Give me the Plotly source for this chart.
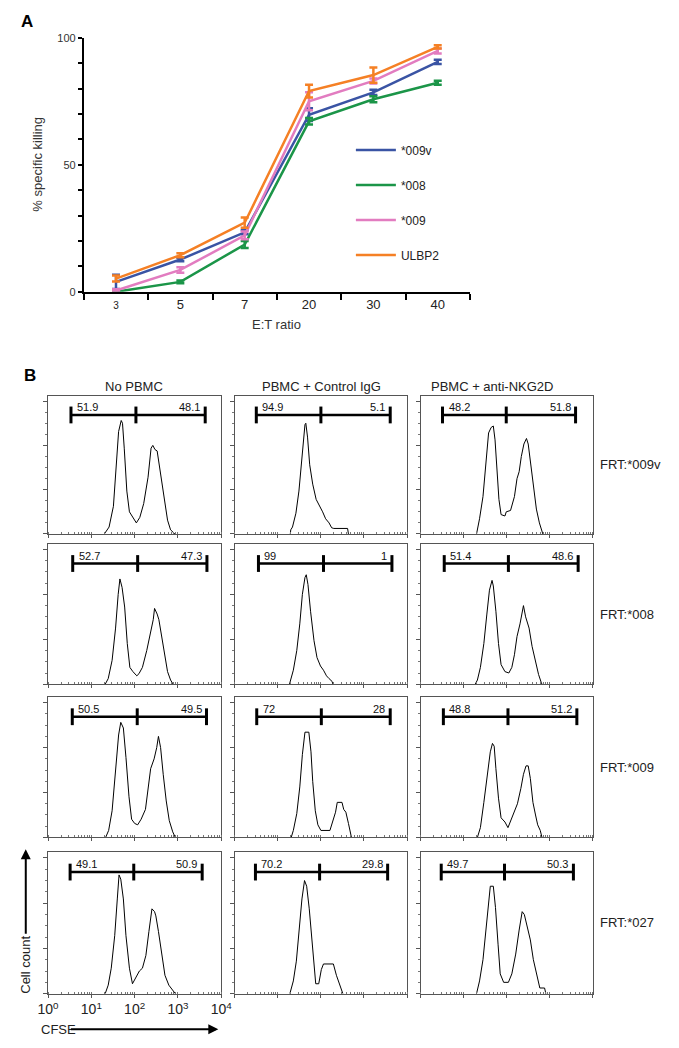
import plotly.graph_objects as go

W, H = 679, 1048
OFF = 8  # default body margin of the html page
FONT = "Arial, Liberation Sans, sans-serif"


def fx(p):
    return (p - OFF) / W


def fy(p):
    return 1 - (p - OFF) / H


# ---------------- Panel A data ----------------
ratios = ["3", "5", "7", "20", "30", "40"]
series_names = ["*009v", "*008", "*009", "ULBP2"]
kill_009v = [3.9, 12.7, 23.4, 69.7, 78.5, 90.5]
err_009v = [2.8, 0.7, 0.8, 2.5, 1.0, 0.8]
kill_008 = [0.0, 3.9, 18.6, 67.1, 75.8, 82.3]
err_008 = [0.3, 0.5, 1.4, 1.3, 1.2, 0.8]
kill_009 = [0.5, 8.6, 22.2, 75.0, 83.0, 94.8]
err_009 = [0.5, 1.1, 1.5, 3.5, 1.0, 1.0]
kill_ulbp2 = [5.2, 14.4, 27.2, 79.0, 85.3, 96.4]
err_ulbp2 = [1.2, 0.8, 2.0, 2.5, 3.0, 0.6]
series_colors = ["#3a54a4", "#1b9548", "#e27cc0", "#f58025"]
y_ticks_A = [0, 10, 20, 30, 40, 50, 60, 70, 80, 90, 100]
y_labels_A = ["0", "", "", "", "", "50", "", "", "", "", "100"]

# ---------------- Panel B data (log10 CFSE, relative count) ----------------
col_titles = ["No PBMC", "PBMC + Control IgG", "PBMC + anti-NKG2D"]
row_labels = ["FRT:*009v", "FRT:*008", "FRT:*009", "FRT:*027"]
x_tick_vals = [1, 10, 100, 1000, 10000]
x_tick_text = ["10<sup>0</sup>", "10<sup>1</sup>", "10<sup>2</sup>", "10<sup>3</sup>", "10<sup>4</sup>"]

r1c1_logx = [1.30, 1.41, 1.51, 1.58, 1.63, 1.69, 1.72, 1.76, 1.82, 1.88, 1.97, 2.04, 2.12, 2.21, 2.31, 2.38, 2.42, 2.47, 2.52, 2.58, 2.66, 2.76, 2.83, 2.93]
r1c1_count = [0, 5, 20, 50, 74, 82, 80, 62, 31, 16, 11, 8, 12, 22, 41, 62, 64, 61, 60, 48, 29, 10, 3, 0]
r1c1_gate = [0.53, 2.03, 3.63]
r1c1_pct = ["51.9", "48.1"]

r1c2_logx = [1.29, 1.30, 1.34, 1.42, 1.49, 1.55, 1.60, 1.63, 1.65, 1.69, 1.74, 1.81, 1.89, 1.96, 2.04, 2.11, 2.19, 2.25, 2.30, 2.62, 2.64]
r1c2_count = [0, 3, 5, 15, 31, 50, 70, 79, 80, 70, 50, 36, 25, 21, 16, 11, 8, 4.5, 4, 4, 0]
r1c2_gate = [0.50, 2.00, 3.61]
r1c2_pct = ["94.9", "5.1"]

r1c3_logx = [1.30, 1.37, 1.45, 1.52, 1.58, 1.64, 1.69, 1.73, 1.78, 1.82, 1.87, 1.96, 1.99, 2.09, 2.18, 2.24, 2.29, 2.34, 2.40, 2.46, 2.50, 2.55, 2.63, 2.69, 2.76, 2.82, 2.84]
r1c3_count = [0, 11, 27, 51, 73, 77, 78, 68, 46, 25, 14, 13, 16, 17, 27, 40, 45, 56, 65, 69, 65, 53, 34, 18, 8, 2, 0]
r1c3_gate = [0.51, 1.99, 3.60]
r1c3_pct = ["48.2", "51.8"]

r2c1_logx = [1.32, 1.39, 1.48, 1.56, 1.62, 1.66, 1.71, 1.77, 1.83, 1.89, 1.96, 2.05, 2.10, 2.18, 2.28, 2.37, 2.43, 2.46, 2.52, 2.56, 2.61, 2.68, 2.76, 2.83, 2.89]
r2c1_count = [0, 4, 17, 40, 64, 75, 69, 55, 29, 12, 9, 6, 7.5, 12, 24, 36, 46, 54, 50, 46, 37, 22, 9, 3, 0]
r2c1_gate = [0.57, 2.07, 3.67]
r2c1_pct = ["52.7", "47.3"]

r2c2_logx = [1.27, 1.30, 1.36, 1.44, 1.51, 1.57, 1.63, 1.66, 1.70, 1.76, 1.84, 1.91, 1.99, 2.06, 2.13, 2.19, 2.26, 2.28]
r2c2_count = [0, 3, 10, 24, 43, 64, 76, 78, 71, 52, 31, 19, 13, 10, 6, 4, 2, 0]
r2c2_gate = [0.55, 2.06, 3.65]
r2c2_pct = ["99", "1"]

r2c3_logx = [1.27, 1.32, 1.39, 1.47, 1.54, 1.60, 1.66, 1.69, 1.75, 1.81, 1.87, 1.96, 2.05, 2.12, 2.18, 2.24, 2.31, 2.36, 2.39, 2.44, 2.52, 2.59, 2.67, 2.74, 2.80, 2.82]
r2c3_count = [0, 3, 12, 29, 50, 67, 74, 70, 52, 29, 14, 9, 8, 12, 21, 34, 43, 52, 56, 48, 40, 27, 15, 7, 1.5, 0]
r2c3_gate = [0.55, 2.04, 3.66]
r2c3_pct = ["51.4", "48.6"]

r3c1_logx = [1.33, 1.40, 1.48, 1.55, 1.63, 1.68, 1.74, 1.80, 1.87, 1.93, 2.00, 2.07, 2.15, 2.25, 2.32, 2.37, 2.45, 2.51, 2.55, 2.60, 2.66, 2.73, 2.80, 2.88, 2.94]
r3c1_count = [0, 5, 19, 45, 73, 82, 78, 57, 29, 13, 10, 9, 13, 20, 36, 49, 56, 64, 72, 64, 45, 26, 12, 4, 0]
r3c1_gate = [0.56, 2.06, 3.66]
r3c1_pct = ["50.5", "49.5"]

r3c2_logx = [1.31, 1.36, 1.44, 1.51, 1.57, 1.63, 1.72, 1.77, 1.81, 1.87, 1.93, 2.00, 2.21, 2.27, 2.34, 2.38, 2.49, 2.53, 2.58, 2.64, 2.70, 2.71]
r3c2_count = [0, 5, 17, 36, 59, 75, 75, 61, 40, 19, 9, 5, 5, 11, 18, 25, 25, 20, 18, 10, 3, 0]
r3c2_gate = [0.51, 2.01, 3.61]
r3c2_pct = ["72", "28"]

r3c3_logx = [1.32, 1.39, 1.47, 1.54, 1.62, 1.67, 1.71, 1.75, 1.81, 1.87, 1.96, 2.03, 2.09, 2.18, 2.25, 2.33, 2.39, 2.45, 2.50, 2.55, 2.61, 2.67, 2.72, 2.78, 2.82]
r3c3_count = [0, 7, 25, 44, 61, 67, 65, 49, 28, 14, 11, 7, 12, 18, 24, 35, 45, 51, 51, 42, 25, 16, 9, 5, 0]
r3c3_gate = [0.53, 2.03, 3.63]
r3c3_pct = ["48.8", "51.2"]

r4c1_logx = [1.32, 1.39, 1.46, 1.54, 1.60, 1.64, 1.68, 1.74, 1.80, 1.88, 1.95, 2.02, 2.11, 2.18, 2.26, 2.33, 2.40, 2.46, 2.49, 2.55, 2.63, 2.70, 2.79, 2.88, 2.94]
r4c1_count = [0, 6, 18, 41, 67, 84, 81, 67, 41, 18, 7, 11, 16, 18, 27, 44, 60, 58, 55, 44, 27, 13, 6, 2, 0]
r4c1_gate = [0.51, 1.98, 3.56]
r4c1_pct = ["49.1", "50.9"]

r4c2_logx = [1.28, 1.36, 1.43, 1.50, 1.56, 1.62, 1.67, 1.73, 1.79, 1.84, 1.88, 1.95, 2.01, 2.06, 2.29, 2.36, 2.44, 2.51]
r4c2_count = [0, 9, 23, 46, 67, 80, 76, 60, 37, 18, 7, 7, 17, 21, 21, 13, 6, 0]
r4c2_gate = [0.48, 1.97, 3.55]
r4c2_pct = ["70.2", "29.8"]

r4c3_logx = [1.30, 1.37, 1.45, 1.52, 1.58, 1.62, 1.69, 1.74, 1.80, 1.85, 1.93, 2.04, 2.12, 2.21, 2.29, 2.36, 2.41, 2.47, 2.55, 2.62, 2.70, 2.77, 2.88, 2.91]
r4c3_count = [0, 9, 24, 45, 68, 76, 76, 61, 35, 14, 8, 8, 14, 28, 45, 58, 56, 49, 38, 24, 12, 4, 4, 0]
r4c3_gate = [0.48, 1.95, 3.55]
r4c3_pct = ["49.7", "50.3"]

gate_level = 86

panels = [
    [(r1c1_logx, r1c1_count, r1c1_gate, r1c1_pct), (r1c2_logx, r1c2_count, r1c2_gate, r1c2_pct), (r1c3_logx, r1c3_count, r1c3_gate, r1c3_pct)],
    [(r2c1_logx, r2c1_count, r2c1_gate, r2c1_pct), (r2c2_logx, r2c2_count, r2c2_gate, r2c2_pct), (r2c3_logx, r2c3_count, r2c3_gate, r2c3_pct)],
    [(r3c1_logx, r3c1_count, r3c1_gate, r3c1_pct), (r3c2_logx, r3c2_count, r3c2_gate, r3c2_pct), (r3c3_logx, r3c3_count, r3c3_gate, r3c3_pct)],
    [(r4c1_logx, r4c1_count, r4c1_gate, r4c1_pct), (r4c2_logx, r4c2_count, r4c2_gate, r4c2_pct), (r4c3_logx, r4c3_count, r4c3_gate, r4c3_pct)],
]

# pixel layout of the histogram grid
col_px = [(38, 217), (231, 409), (423, 601)]
row_px = [(394, 534), (544, 686), (699, 841), (856, 999)]
col_title_px = [127, 321, 497]

fig = go.Figure()

# ---------------- Panel A traces ----------------
kills = [kill_009v, kill_008, kill_009, kill_ulbp2]
errs = [err_009v, err_008, err_009, err_ulbp2]
for name, k, e, col in zip(series_names, kills, errs, series_colors):
    fig.add_trace(go.Scatter(
        x=ratios, y=k, name=name, mode="lines", legendgroup=name,
        line=dict(color=col, width=2.5),
        error_y=dict(type="data", array=e, color=col, thickness=2.5, width=4),
        cliponaxis=False, xaxis="x", yaxis="y",
    ))

layout = dict(
    width=W, height=H, margin=dict(l=0, r=0, t=0, b=0),
    paper_bgcolor="white", plot_bgcolor="white",
    font=dict(family=FONT, size=12, color="#222"),
    showlegend=True,
    legend=dict(x=fx(351), y=fy(131), xanchor="left", yanchor="top",
                bgcolor="rgba(0,0,0,0)", font=dict(size=12, color="#222"),
                tracegroupgap=16, itemwidth=40),
    xaxis=dict(domain=[fx(75), fx(474)], type="category", range=[-0.5, 5.5],
               tickson="boundaries", ticks="outside", ticklen=6, tickwidth=2,
               tickcolor="black", showline=True, linewidth=2, linecolor="black",
               showgrid=False, zeroline=False, anchor="y",
               tickvals=ratios,
               ticktext=['<span style="font-size:10px">3</span>', "5", "7", "20", "30", "40"],
               tickfont=dict(size=13, color="#222")),
    yaxis=dict(domain=[fy(289), fy(32)], range=[0, 100], tickvals=y_ticks_A,
               ticktext=y_labels_A, ticks="outside", ticklen=4, tickwidth=1.5,
               tickcolor="black", showline=True, linewidth=2, linecolor="black",
               showgrid=False, zeroline=False, anchor="x",
               tickfont=dict(size=11, color="#333")),
)


def pann(text, px, py, size=12, angle=0, xanchor="center", yanchor="middle", color="#222"):
    return dict(text=text, x=fx(px), y=fy(py), xref="paper", yref="paper",
                xanchor=xanchor, yanchor=yanchor, showarrow=False, textangle=angle,
                font=dict(size=size, color=color))


annotations = [
    pann("<b>A</b>", 16, 16, size=17, color="black"),
    pann("<b>B</b>", 19, 374, size=17, color="black"),
    pann("% specific killing", 27, 160, size=13, angle=-90, color="#333"),
    pann("E:T ratio", 274, 322, size=13, color="#333"),
]

# ---------------- Panel B histograms ----------------
n = 2
for r in range(4):
    for c in range(3):
        logx, cnt, gate, pct = panels[r][c]
        xa, ya = f"x{n}", f"y{n}"
        fig.add_trace(go.Scatter(
            x=[10 ** v for v in logx], y=cnt, mode="lines",
            line=dict(color="black", width=1), showlegend=False,
            xaxis=xa, yaxis=ya, hoverinfo="skip"))
        gx = [10 ** v for v in gate]
        fig.add_trace(go.Scatter(
            x=[gx[0], gx[2]], y=[gate_level, gate_level], mode="lines",
            line=dict(color="black", width=2.5), showlegend=False,
            xaxis=xa, yaxis=ya, cliponaxis=False))
        fig.add_trace(go.Scatter(
            x=gx, y=[gate_level] * 3, mode="markers",
            marker=dict(symbol="line-ns", size=12, line=dict(width=3, color="black")),
            showlegend=False, xaxis=xa, yaxis=ya, cliponaxis=False))
        # percentage labels (annotation x on log axes is given in log10 units)
        annotations.append(dict(text=pct[0], x=gate[0], y=gate_level, xref=xa, yref=ya,
                                xanchor="left", yanchor="bottom", xshift=4, yshift=0,
                                showarrow=False, font=dict(size=11, color="#111")))
        annotations.append(dict(text=pct[1], x=gate[2], y=gate_level, xref=xa, yref=ya,
                                xanchor="right", yanchor="bottom", xshift=-3, yshift=0,
                                showarrow=False, font=dict(size=11, color="#111")))

        cl, cr = col_px[c]
        rt, rb = row_px[r]
        show_lab = (r == 3 and c == 0)
        layout[f"xaxis{n}"] = dict(
            domain=[fx(cl), fx(cr)], type="log", range=[0, 4], anchor=ya,
            showline=True, mirror=True, linecolor="#555", linewidth=1,
            ticks="outside", ticklen=3, tickcolor="#555",
            tickvals=x_tick_vals, ticktext=x_tick_text,
            showticklabels=show_lab, tickfont=dict(size=14, color="#222"),
            minor=dict(ticks="inside", ticklen=2, tickcolor="#777", dtick="D1"),
            showgrid=False, zeroline=False)
        layout[f"yaxis{n}"] = dict(
            domain=[fy(rb), fy(rt)], range=[0, 100], anchor=xa,
            showline=True, mirror=True, linecolor="#555", linewidth=1,
            ticks="outside", ticklen=4, tickcolor="#555", tick0=0, dtick=32,
            minor=dict(ticks="outside", ticklen=2, tickcolor="#777", dtick=8),
            showticklabels=False, showgrid=False, zeroline=False)
        n += 1

for c, title in enumerate(col_titles):
    annotations.append(pann(title, col_title_px[c], 385, size=13))
for r, lab in enumerate(row_labels):
    rt, rb = row_px[r]
    annotations.append(pann(lab, 606, (rt + rb) / 2, size=13, xanchor="left"))

annotations += [
    pann("Cell count", 15, 970, size=13, angle=-90),
    dict(text="", x=fx(15), y=fy(853), xref="paper", yref="paper",
         showarrow=True, ax=0, ay=86, arrowhead=2, arrowwidth=2, arrowsize=1,
         arrowcolor="black"),
    pann("CFSE", 29, 1035, size=13, xanchor="left"),
    dict(text="", x=fx(214), y=fy(1035), xref="paper", yref="paper",
         showarrow=True, ax=-149, ay=0, arrowhead=2, arrowwidth=2, arrowsize=1,
         arrowcolor="black"),
]
layout["annotations"] = annotations

fig.update_layout(**layout)
fig.write_html("out.html")
